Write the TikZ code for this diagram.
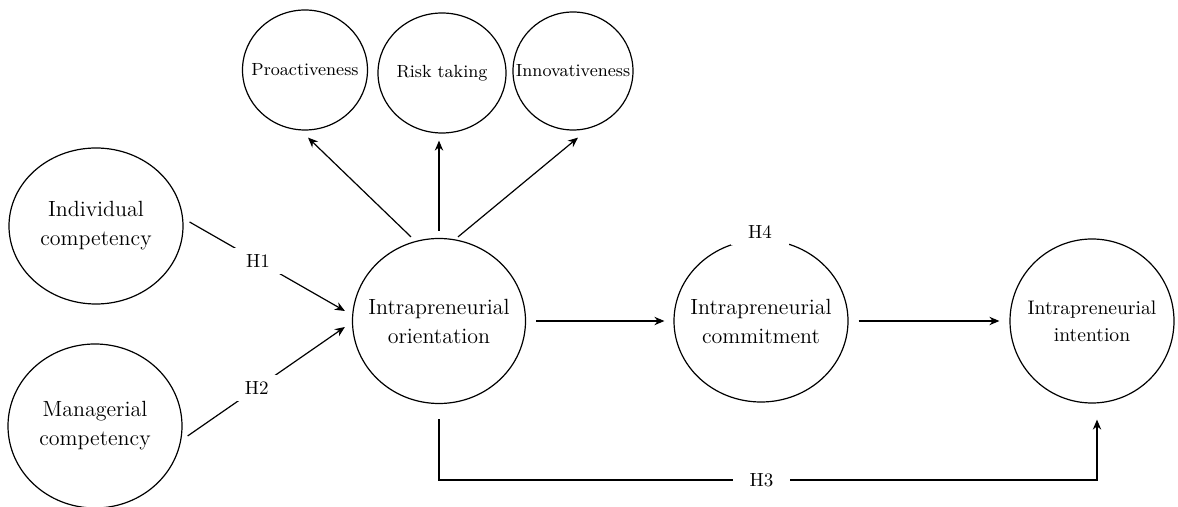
\documentclass[tikz,border=0pt]{standalone}
\usetikzlibrary{arrows.meta,shapes.geometric,positioning}

\begin{document}
\begin{tikzpicture}[x=0.5pt, y=-0.5pt, >={Stealth[length=5pt,width=4.2pt]},
    construct/.style={draw, ellipse, line width=0.6pt, inner xsep=-10pt, inner ysep=0pt,
        align=center, font=\fontsize{11}{14.5}\selectfont},
    dimension/.style={construct, font=\fontsize{8.8}{11}\selectfont},
    hyp/.style={fill=white, inner xsep=7pt, inner ysep=3.3pt, font=\fontsize{9.5}{12}\selectfont},
    link/.style={->, line width=0.6pt}]

    \useasboundingbox (0,0) rectangle (1178,507);

    % Antecedents
    \node[construct, minimum width=87pt, minimum height=78pt] (indiv) at (96,226) {Individual\\competency};
    \node[construct, minimum width=87pt, minimum height=82pt] (manag) at (95,426) {Managerial\\competency};

    % Main constructs
    \node[construct, minimum width=86.5pt, minimum height=82.5pt] (orient) at (439,321) {Intrapreneurial\\orientation};
    \node[construct, minimum width=87pt, minimum height=81pt] (commit) at (761,321) {Intrapreneurial\\commitment};
    \node[construct, minimum width=82pt, minimum height=82pt, font=\fontsize{9.8}{13.5}\selectfont] (intent) at (1092,321) {Intrapreneurial\\intention};

    % Dimensions of orientation
    \node[dimension, minimum width=62.5pt, minimum height=60pt] (proact) at (305,70) {Proactiveness};
    \node[dimension, minimum width=64pt, minimum height=60pt] (risk) at (442,73) {Risk taking};
    \node[dimension, minimum width=60pt, minimum height=59pt] (innov) at (573,71) {Innovativeness};

    \draw[link] ([xshift=-14pt,yshift=0.5pt]orient.north) -- ([xshift=1.5pt,yshift=-3.5pt]proact.south);
    \draw[link] ([yshift=3.5pt]orient.north) -- ([yshift=-3.5pt]orient.north |- risk.south);
    \draw[link] ([xshift=9.5pt,yshift=0.5pt]orient.north) -- ([xshift=2.5pt,yshift=-3.5pt]innov.south);

    % Hypotheses
    \draw[link] ([xshift=3pt,yshift=2pt]indiv.east) -- node[hyp, pos=0.44] (h1) {H1} ([xshift=-3.5pt,yshift=5pt]orient.west);
    \draw[link] ([xshift=2.5pt,yshift=-5pt]manag.east) -- node[hyp, pos=0.44] (h2) {H2} ([xshift=-3.5pt,yshift=-3pt]orient.west);

    \draw[link] ([xshift=5pt]orient.east) -- ([xshift=-4.5pt]commit.west);
    \draw[link] ([xshift=5pt]commit.east) -- ([xshift=-5pt]intent.west);
    \node[hyp, inner xsep=8.5pt] (h4) at (760,232) {H4};

    \draw[link] ([yshift=-7.5pt]orient.south) -- ++(0,61)
        -| node[hyp, inner xsep=8.5pt, pos=0.245] (h3) {H3} ([xshift=2.5pt,yshift=-8pt]intent.south);
\end{tikzpicture}
\end{document}
